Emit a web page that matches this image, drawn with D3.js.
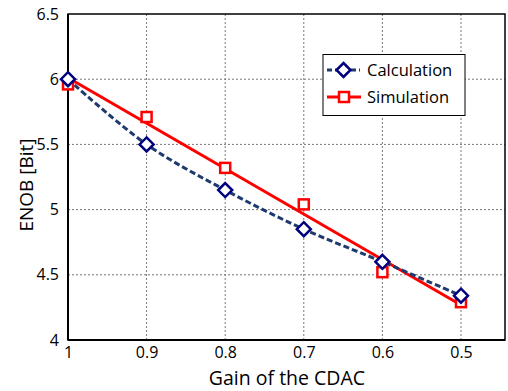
<!DOCTYPE html>
<html><head><meta charset="utf-8">
<script src="https://cdn.jsdelivr.net/npm/d3@7/dist/d3.min.js"></script>
<style>body{margin:0;background:#fff}svg{display:block}text{font-family:"Open Sans",sans-serif;fill:#000}</style>
</head><body>
<svg id="c" width="508" height="391"></svg>
<script>
const gains = [1, 0.9, 0.8, 0.7, 0.6, 0.5];
const calculation = [6.0, 5.5, 5.15, 4.85, 4.6, 4.34];
const simulation = [5.96, 5.71, 5.32, 5.04, 4.52, 4.29];
const xTicks = [1, 0.9, 0.8, 0.7, 0.6, 0.5];
const yTicks = [4, 4.5, 5, 5.5, 6, 6.5];
const seriesNames = ["Calculation", "Simulation"];

const svg = d3.select("#c");
const L = 68, R = 505, T = 14, B = 340;
const x = d3.scaleLinear().domain([1, 0.444]).range([L, R]);
const y = d3.scaleLinear().domain([4, 6.5]).range([B, T]);

// grid
const g = svg.append("g");
g.selectAll(".vg").data(xTicks.slice(1)).enter().append("line")
  .attr("x1", d => x(d)).attr("x2", d => x(d)).attr("y1", T).attr("y2", B)
  .attr("stroke", "#777").attr("stroke-width", 1).attr("stroke-dasharray", "2,2");
g.selectAll(".hg").data(yTicks.slice(1, -1)).enter().append("line")
  .attr("x1", L).attr("x2", R).attr("y1", d => y(d)).attr("y2", d => y(d))
  .attr("stroke", "#777").attr("stroke-width", 1).attr("stroke-dasharray", "2,2");

// frame
svg.append("rect").attr("x", L).attr("y", T).attr("width", R - L).attr("height", B - T)
  .attr("fill", "none").attr("stroke", "#000").attr("stroke-width", 1.5);
svg.append("line").attr("x1", L).attr("x2", L).attr("y1", T).attr("y2", B).attr("stroke", "#000").attr("stroke-width", 2);
svg.append("line").attr("x1", L).attr("x2", R).attr("y1", B).attr("y2", B).attr("stroke", "#000").attr("stroke-width", 2);

// axes
const xAxis = d3.axisBottom(x).tickValues(xTicks).tickSize(0).tickPadding(7).tickFormat(d => d === 1 ? "1" : d3.format(".1f")(d));
const xa = svg.append("g").attr("transform", `translate(0,${B})`).call(xAxis);
xa.select(".domain").remove();
xa.selectAll("text").style("font-size", "16px").attr("fill", "#000");
const yAxis = d3.axisLeft(y).tickValues(yTicks).tickSize(0).tickPadding(9).tickFormat(d => d % 1 === 0 ? String(d) : d3.format(".1f")(d));
const ya = svg.append("g").attr("transform", `translate(${L},0)`).call(yAxis);
ya.select(".domain").remove();
ya.selectAll("text").style("font-size", "16px").attr("fill", "#000");

svg.append("text").attr("x", 287).attr("y", 385).attr("text-anchor", "middle").style("font-size", "19.5px").text("Gain of the CDAC");
svg.append("text").attr("transform", "translate(33,185) rotate(-90)").attr("text-anchor", "middle").style("font-size", "19px").text("ENOB [Bit]");

// simulation trend line (linear least squares)
const mx = d3.mean(gains), my = d3.mean(simulation);
const slope = d3.sum(gains.map((g, i) => (g - mx) * (simulation[i] - my))) / d3.sum(gains.map(g => (g - mx) ** 2));
const icpt = my - slope * mx;
const ends = [gains[0], gains[gains.length - 1]];
svg.append("path").datum(ends)
  .attr("d", d3.line().x(d => x(d)).y(d => y(icpt + slope * d)))
  .attr("fill", "none").attr("stroke", "#ff0000").attr("stroke-width", 3);

// calculation smooth dashed line
const calcData = gains.map((g, i) => [g, calculation[i]]);
svg.append("path").datum(calcData)
  .attr("d", d3.line().x(d => x(d[0])).y(d => y(d[1])).curve(d3.curveCatmullRom.alpha(0.5)))
  .attr("fill", "none").attr("stroke", "#1f3a6e").attr("stroke-width", 3).attr("stroke-dasharray", "6,3");

// markers
const simData = gains.map((g, i) => [g, simulation[i]]);
svg.selectAll(".sq").data(simData).enter().append("rect")
  .attr("x", d => x(d[0]) - 5).attr("y", d => y(d[1]) - 5).attr("width", 10).attr("height", 10)
  .attr("fill", "#fff").attr("stroke", "#ff0000").attr("stroke-width", 2.5);
const diamond = "M0,-7L7,0L0,7L-7,0Z";
svg.selectAll(".dm").data(calcData).enter().append("path")
  .attr("d", diamond).attr("transform", d => `translate(${x(d[0])},${y(d[1])})`)
  .attr("fill", "#fff").attr("stroke", "#00007f").attr("stroke-width", 2.5);

// legend
const lg = svg.append("g");
lg.append("rect").attr("x", 323).attr("y", 54.5).attr("width", 142).attr("height", 61)
  .attr("fill", "#fff").attr("stroke", "#000").attr("stroke-width", 1);
const ly = [70, 97];
lg.append("line").attr("x1", 327).attr("x2", 360).attr("y1", ly[0]).attr("y2", ly[0])
  .attr("stroke", "#1f3a6e").attr("stroke-width", 3).attr("stroke-dasharray", "5,3");
lg.append("path").attr("d", diamond).attr("transform", `translate(343.5,${ly[0]})`)
  .attr("fill", "#fff").attr("stroke", "#00007f").attr("stroke-width", 2.5);
lg.append("line").attr("x1", 327).attr("x2", 361).attr("y1", ly[1]).attr("y2", ly[1])
  .attr("stroke", "#ff0000").attr("stroke-width", 3);
lg.append("rect").attr("x", 339).attr("y", ly[1] - 5).attr("width", 10).attr("height", 10)
  .attr("fill", "#fff").attr("stroke", "#ff0000").attr("stroke-width", 2.5);
seriesNames.forEach((n, i) => {
  lg.append("text").attr("x", 367).attr("y", ly[i]).attr("dy", "0.35em").style("font-size", "16.5px").text(n);
});
</script>
</body></html>
